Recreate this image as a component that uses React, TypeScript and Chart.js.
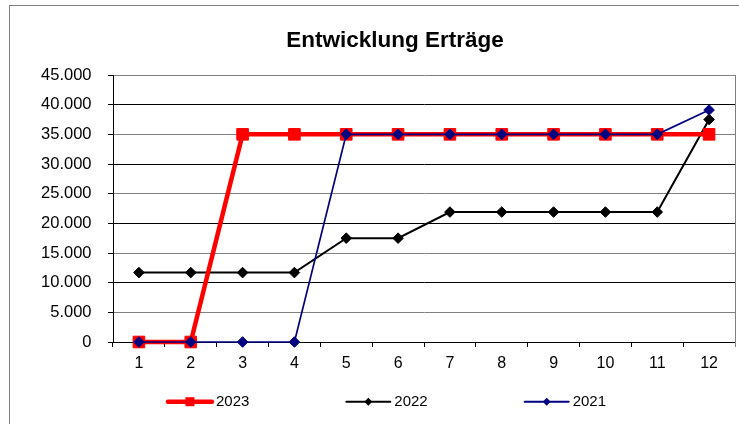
import React, { useEffect, useRef } from 'react';
import { Chart, registerables } from 'chart.js';

Chart.register(...registerables);

const chartTitle = 'Entwicklung Erträge';
const months = ['1', '2', '3', '4', '5', '6', '7', '8', '9', '10', '11', '12'];
const seriesNames = ['2023', '2022', '2021'];
const values2023 = [0, 0, 35000, 35000, 35000, 35000, 35000, 35000, 35000, 35000, 35000, 35000];
const values2022 = [11700, 11700, 11700, 11700, 17500, 17500, 21900, 21900, 21900, 21900, 21900, 37500];
const values2021 = [0, 0, 0, 0, 35000, 35000, 35000, 35000, 35000, 35000, 35000, 39100];
const yMin = 0;
const yMax = 45000;
const yStep = 5000;

const FONT = "'Liberation Sans', Arial, sans-serif";

function formatDe(v: number): string {
  return String(v).replace(/\B(?=(\d{3})+(?!\d))/g, '.');
}

type LegendSpec = { color: string; lineWidth: number; marker: 'square' | 'diamond'; size: number };

const legendPlugin = {
  id: 'excelLegend',
  afterDraw(chart: any) {
    const ctx = chart.ctx as CanvasRenderingContext2D;
    const ds = chart.data.datasets as any[];
    ctx.save();
    ctx.font = `15px ${FONT}`;
    const lineLen = 44;
    const gap = 4;
    const itemGap = 97;
    const widths = ds.map((d) => lineLen + gap + ctx.measureText(d.label).width);
    const total = widths.reduce((a, b) => a + b, 0) + itemGap * (ds.length - 1);
    let x = chart.width / 2 - 8 - total / 2;
    const y = chart.chartArea.bottom + 59.7;
    ds.forEach((d, i) => {
      const spec: LegendSpec = d.legendSpec;
      ctx.strokeStyle = spec.color;
      ctx.lineWidth = spec.lineWidth;
      ctx.lineCap = 'round';
      ctx.beginPath();
      ctx.moveTo(x, y);
      ctx.lineTo(x + lineLen, y);
      ctx.stroke();
      const cx = x + lineLen / 2;
      ctx.fillStyle = spec.color;
      ctx.beginPath();
      if (spec.marker === 'square') {
        ctx.rect(cx - spec.size / 2, y - spec.size / 2, spec.size, spec.size);
      } else {
        const r = spec.size / 2;
        ctx.moveTo(cx - r, y);
        ctx.lineTo(cx, y - r);
        ctx.lineTo(cx + r, y);
        ctx.lineTo(cx, y + r);
        ctx.closePath();
      }
      ctx.fill();
      ctx.fillStyle = '#000';
      ctx.textAlign = 'left';
      ctx.textBaseline = 'middle';
      ctx.fillText(d.label, x + lineLen + gap, y);
      x += widths[i] + itemGap;
    });
    ctx.restore();
  },
};

const framePlugin = {
  id: 'plotFrame',
  beforeDatasetsDraw(chart: any) {
    const { ctx, chartArea } = chart;
    ctx.save();
    ctx.strokeStyle = '#808080';
    ctx.lineWidth = 1;
    const xr = Math.round(chartArea.right) + 0.5;
    ctx.beginPath();
    ctx.moveTo(xr, chartArea.top);
    ctx.lineTo(xr, chartArea.bottom + 5);
    ctx.stroke();
    ctx.restore();
  },
};

export default function App() {
  const canvasRef = useRef<HTMLCanvasElement | null>(null);

  useEffect(() => {
    if (!canvasRef.current) return;
    const chart = new Chart(canvasRef.current, {
      type: 'line',
      data: {
        labels: months,
        datasets: [
          {
            label: seriesNames[0],
            data: values2023,
            borderColor: '#FF0000',
            backgroundColor: '#FF0000',
            borderWidth: 4.5,
            pointStyle: 'rect',
            pointRadius: 8.2,
            pointBorderWidth: 1,
            pointBackgroundColor: '#FF0000',
            pointBorderColor: '#FF0000',
            tension: 0,
            clip: false,
            order: 1,
            legendSpec: { color: '#FF0000', lineWidth: 4.5, marker: 'square', size: 9 },
          } as any,
          {
            label: seriesNames[1],
            data: values2022,
            borderColor: '#000000',
            backgroundColor: '#000000',
            borderWidth: 2,
            pointStyle: 'rectRot',
            pointRadius: 5.3,
            pointBorderWidth: 1,
            pointBackgroundColor: '#000000',
            pointBorderColor: '#000000',
            tension: 0,
            clip: false,
            order: 2,
            legendSpec: { color: '#000000', lineWidth: 2, marker: 'diamond', size: 8 },
          } as any,
          {
            label: seriesNames[2],
            data: values2021,
            borderColor: '#000080',
            backgroundColor: '#000080',
            borderWidth: 1.7,
            pointStyle: 'rectRot',
            pointRadius: 5.3,
            pointBorderWidth: 1,
            pointBackgroundColor: '#000080',
            pointBorderColor: '#000080',
            tension: 0,
            clip: false,
            order: 0,
            legendSpec: { color: '#000080', lineWidth: 2, marker: 'diamond', size: 8 },
          } as any,
        ],
      },
      options: {
        animation: false,
        responsive: true,
        maintainAspectRatio: false,
        layout: { padding: { left: 0, right: 0, top: 0, bottom: 64 } },
        plugins: {
          legend: { display: false },
          tooltip: { enabled: false },
          title: {
            display: true,
            text: chartTitle,
            color: '#000',
            font: { family: FONT, size: 22.5, weight: 'bold' },
            padding: { top: 21.3, bottom: 20.7 },
          },
        },
        scales: {
          x: {
            type: 'category',
            offset: true,
            grid: {
              display: true,
              drawOnChartArea: false,
              drawTicks: true,
              tickLength: 5,
              offset: true,
              color: '#000',
            },
            border: { display: true, color: '#000', width: 1 },
            ticks: {
              color: '#000',
              font: { family: FONT, size: 16 },
              padding: 6.5,
              maxRotation: 0,
              autoSkip: false,
            },
            afterFit: (s: any) => {
              s.height = 30;
            },
          },
          y: {
            type: 'linear',
            position: 'left',
            min: yMin,
            max: yMax,
            grid: {
              color: (c: any) => (c.index % 2 === 0 ? '#000' : '#808080'),
              tickColor: '#000',
              tickLength: 5,
              lineWidth: 1,
            },
            border: { display: true, color: '#000', width: 1 },
            ticks: {
              stepSize: yStep,
              color: '#000',
              font: { family: FONT, size: 16.5 },
              padding: 16.5,
              callback: (v: any) => formatDe(Number(v)),
            },
            afterFit: (s: any) => {
              s.width = 103;
            },
          },
          yRight: {
            type: 'linear',
            position: 'right',
            display: true,
            grid: { display: false, drawTicks: false },
            border: { display: false },
            ticks: { display: false },
            afterFit: (s: any) => {
              s.width = 45;
            },
          },
        },
      } as any,
      plugins: [framePlugin, legendPlugin],
    });
    return () => chart.destroy();
  }, []);

  return (
    <div style={{ position: 'fixed', left: 0, top: 0, right: 0, bottom: 0, overflow: 'hidden', background: '#fff' }}>
      <div
        style={{
          position: 'absolute',
          left: 9,
          top: 5,
          width: 770,
          height: 430,
          border: '1px solid #808080',
        }}
      >
        <div style={{ position: 'relative', width: 770, height: 430 }}>
          <canvas ref={canvasRef} />
        </div>
      </div>
    </div>
  );
}
